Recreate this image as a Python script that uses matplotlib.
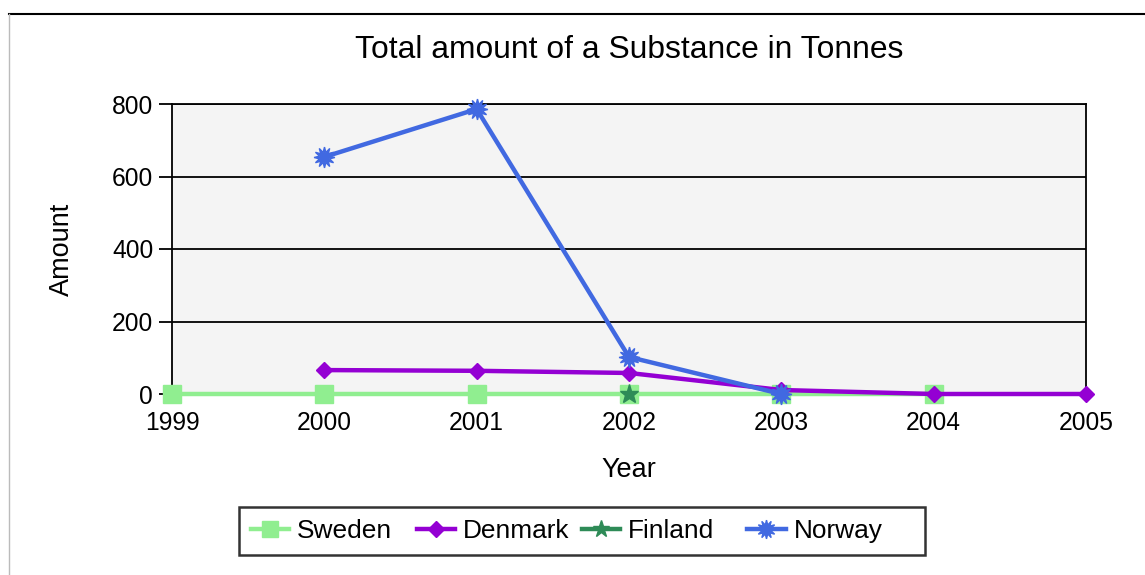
import matplotlib
matplotlib.use("Agg")
import matplotlib.pyplot as plt
from matplotlib.lines import Line2D

years = [1999, 2000, 2001, 2002, 2003, 2004, 2005]
sweden_years = [1999, 2000, 2001, 2002, 2003, 2004]
sweden_vals = [0, 0, 0, 0, 0, 0]
denmark_years = [2000, 2001, 2002, 2003, 2004, 2005]
denmark_vals = [66, 64, 58, 11, 0, 0]
finland_years = [2002]
finland_vals = [0]
norway_years = [2000, 2001, 2002, 2003]
norway_vals = [654, 786, 102, 0]
yticks = [0, 200, 400, 600, 800]

plt.rcParams['font.family'] = ['Liberation Sans', 'DejaVu Sans']

W, H = 1145, 575
fig = plt.figure(figsize=(W/100, H/100), dpi=100)
ax = fig.add_axes([172/W, 1-394/H, (1086-172)/W, (394-104)/H])
ax.set_facecolor('#f4f4f4')

lw = 3.2
ax.plot(sweden_years, sweden_vals, color='#90ee90', lw=lw, marker='s', ms=12.5,
        mec='#90ee90', clip_on=False, zorder=3, label='Sweden')
ax.plot(denmark_years, denmark_vals, color='#9400d3', lw=lw, marker='D', ms=8.5,
        mec='#9400d3', clip_on=False, zorder=4, label='Denmark')
ax.plot(finland_years, finland_vals, color='#2e8b57', lw=lw, marker='*', ms=14,
        mec='#2e8b57', clip_on=False, zorder=5, label='Finland')
ax.plot(norway_years, norway_vals, color='#4169e1', lw=lw, marker=(12, 1, 0), ms=15,
        mec='#4169e1', clip_on=False, zorder=6, label='Norway')

ax.set_xlim(1999, 2005)
ax.set_ylim(0, 800)
ax.set_xticks(years)
ax.set_yticks(yticks)
ax.yaxis.grid(True, color='black', lw=1.3)
ax.set_axisbelow(True)
for s in ['left', 'right', 'top']:
    ax.spines[s].set_color('black')
    ax.spines[s].set_linewidth(1.3)
ax.spines['bottom'].set_visible(False)
ax.tick_params(axis='x', direction='out', length=5, width=1.4, labelsize=17.7, pad=7.5)
ax.tick_params(axis='y', direction='out', length=9.5, width=1.3, labelsize=17.7, pad=4)
for t in ax.xaxis.get_ticklines():
    t.set_zorder(10)

ax.set_title('Total amount of a Substance in Tonnes', fontsize=22.9,
             y=(394-50.5)/290, va='center', pad=0)
ax.set_xlabel('Year', fontsize=19.5, va='center')
ax.xaxis.set_label_coords(0.5, (394-470)/290)
ax.set_ylabel('Amount', fontsize=19.5, va='center')
ax.yaxis.set_label_coords((62-172)/914, 0.5)

leg = fig.legend(loc='center', bbox_to_anchor=(582/W, 1-531/H), ncol=4,
                 fontsize=18.9, frameon=True, fancybox=False, edgecolor='black',
                 handlelength=1.45, columnspacing=0.5, handletextpad=0.3,
                 borderpad=0.45, borderaxespad=0, markerscale=0.9)
leg._legend_handle_box.mode = 'equal'
leg.get_frame().set_linewidth(1.8)

# figure border lines
fig.add_artist(Line2D([9/W, 1], [1-14/H, 1-14/H], color='black', lw=1.5))
fig.add_artist(Line2D([9/W, 9/W], [0, 1-14/H], color='#bbbbbb', lw=1))

fig.savefig('out.png', dpi=100)
